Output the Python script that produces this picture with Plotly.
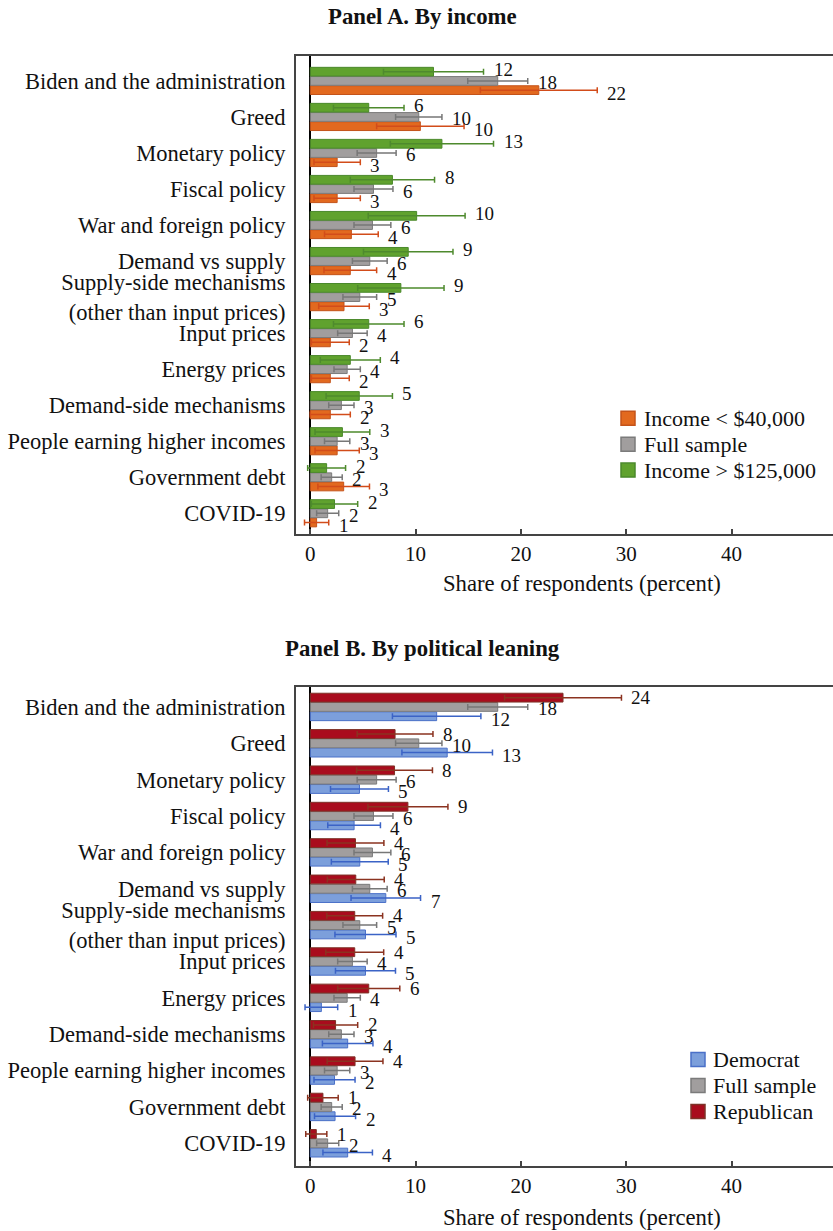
import plotly.graph_objects as go

W, H = 833, 1231

# Reasons given for inflation (top to bottom)
categories = [
    "Biden and the administration",
    "Greed",
    "Monetary policy",
    "Fiscal policy",
    "War and foreign policy",
    "Demand vs supply",
    "Supply-side mechanisms<br>(other than input prices)",
    "Input prices",
    "Energy prices",
    "Demand-side mechanisms",
    "People earning higher incomes",
    "Government debt",
    "COVID-19",
]

# Shares of respondents (percent) and error-bar half widths
full_sample = [17.8, 10.3, 6.3, 6.0, 5.9, 5.65, 4.7, 4.0, 3.5, 2.95, 2.55, 2.03, 1.65]
full_sample_err = [2.85, 2.2, 1.85, 1.85, 1.75, 1.65, 1.6, 1.4, 1.25, 1.2, 1.2, 1.0, 1.05]

income_low = [21.7, 10.45, 2.55, 2.55, 3.9, 3.8, 3.2, 1.9, 1.9, 1.9, 2.55, 3.17, 0.6]
income_low_err = [5.55, 4.15, 2.2, 2.2, 2.55, 2.5, 2.4, 1.8, 1.8, 1.9, 2.1, 2.45, 1.15]

income_high = [11.7, 5.55, 12.5, 7.8, 10.1, 9.3, 8.6, 5.55, 3.8, 4.65, 3.05, 1.55, 2.3]
income_high_err = [4.75, 3.35, 4.9, 4.0, 4.6, 4.25, 4.1, 3.35, 2.85, 3.15, 2.6, 1.8, 2.2]

democrat = [12.0, 13.0, 4.67, 4.16, 4.7, 7.17, 5.24, 5.24, 1.05, 3.55, 2.3, 2.35, 3.55]
democrat_err = [4.2, 4.3, 2.75, 2.5, 2.7, 3.3, 2.9, 2.85, 1.55, 2.4, 1.95, 1.95, 2.35]

republican = [24.0, 8.05, 8.0, 9.27, 4.29, 4.32, 4.22, 4.22, 5.55, 2.4, 4.25, 1.2, 0.57]
republican_err = [5.55, 3.6, 3.6, 3.8, 2.7, 2.7, 2.65, 2.75, 2.95, 2.1, 2.65, 1.45, 1.0]

x_ticks = [0, 10, 20, 30, 40]

FONT = "Liberation Serif, Times New Roman, Times, serif"
TEXT = "#111111"
BARGAP = 0.233


def px_x(p):
    return p / W


def px_y(p):
    return 1 - p / H


def fmt(v):
    return str(int(v + 0.5))


# Panel geometry (pixel rows of the plot frames) and legend placement
panels = {
    "A": dict(top=55.7, bottom=534.0, yrange=[-0.575, 12.70], xa="x", ya="y",
              legend_box_x=621, legend_text_x=642, legend_row0=418.3, legend_step=25.9,
              legend_order=[0, 1, 2]),
    "B": dict(top=687.3, bottom=1165.7, yrange=[-0.616, 12.54], xa="x2", ya="y2",
              legend_box_x=691, legend_text_x=711, legend_row0=1059.5, legend_step=26.0,
              legend_order=[0, 1, 2]),
}
x_left_px, x_zero_px, px_per_unit = 296.0, 310.3, 10.53
x_range = [(x_left_px - x_zero_px) / px_per_unit, (W - x_zero_px) / px_per_unit]

series = {
    "A": [
        ("Income < $40,000", income_low, income_low_err, "#E2691F", "#C4531A", "#D24C1A", -3),
        ("Full sample", full_sample, full_sample_err, "#A19E9E", "#7B7B7B", "#777777", -2),
        ("Income > $125,000", income_high, income_high_err, "#60A22E", "#4A892B", "#4E8A2D", 2),
    ],
    "B": [
        ("Democrat", democrat, democrat_err, "#7C9FDB", "#4A70C8", "#3B63C6", -3),
        ("Full sample", full_sample, full_sample_err, "#A19E9E", "#7B7B7B", "#777777", -2),
        ("Republican", republican, republican_err, "#A90C1D", "#7E3328", "#8B3320", 0),
    ],
}

fig = go.Figure()
annotations = []
shapes = []

for key, p in panels.items():
    span_px = p["bottom"] - p["top"]
    cat_px = span_px / (p["yrange"][1] - p["yrange"][0])
    bar_px = cat_px * (1 - BARGAP) / 3
    for i, (name, vals, errs, fill, edge, ecol, dy) in enumerate(series[key]):
        fig.add_trace(go.Bar(
            y=categories, x=vals, orientation="h", name=name,
            marker=dict(color=fill, line=dict(color=edge, width=1)),
            error_x=dict(type="data", array=errs, visible=True, color=ecol,
                         thickness=1.5, width=3),
            xaxis=p["xa"], yaxis=p["ya"], showlegend=False,
        ))
        offset = (i - 1) * bar_px
        for c, v, e in zip(categories, vals, errs):
            annotations.append(dict(
                x=v + e, y=c, xref=p["xa"], yref=p["ya"], text=fmt(v),
                showarrow=False, xanchor="left", yanchor="middle",
                xshift=8, yshift=offset + dy,
                font=dict(family=FONT, size=19, color=TEXT),
            ))

    # Legend: coloured squares with series names
    for row, idx in enumerate(p["legend_order"]):
        name, _, _, fill, edge, _, _ = series[key][idx]
        yc = p["legend_row0"] + row * p["legend_step"]
        x0 = p["legend_box_x"]
        shapes.append(dict(type="rect", xref="paper", yref="paper",
                           x0=px_x(x0), x1=px_x(x0 + 14), y0=px_y(yc + 7), y1=px_y(yc - 7),
                           fillcolor=fill, line=dict(color=edge, width=1.5)))
        annotations.append(dict(x=px_x(p["legend_text_x"]), y=px_y(yc), xref="paper", yref="paper",
                                text=name, showarrow=False, xanchor="left", yanchor="middle",
                                font=dict(family=FONT, size=22, color=TEXT)))

# Panel titles and axis titles
for text, ypx in [("<b>Panel A. By income</b>", 17), ("<b>Panel B. By political leaning</b>", 648)]:
    annotations.append(dict(x=px_x(422), y=px_y(ypx), xref="paper", yref="paper", text=text,
                            showarrow=False, xanchor="center", yanchor="middle",
                            font=dict(family=FONT, size=22.8, color=TEXT)))
for ypx in [583, 1217]:
    annotations.append(dict(x=px_x(582), y=px_y(ypx), xref="paper", yref="paper",
                            text="Share of respondents (percent)", showarrow=False,
                            xanchor="center", yanchor="middle",
                            font=dict(family=FONT, size=22.7, color=TEXT)))

frame = "#444444"
xaxis_style = dict(
    range=x_range, domain=[px_x(x_left_px), 1.0], tickvals=x_ticks,
    ticks="inside", ticklen=5, tickwidth=1.5, tickcolor=frame,
    showline=True, linecolor=frame, linewidth=2, mirror=True,
    showgrid=False, zeroline=True, zerolinecolor="#000000", zerolinewidth=1.5,
    tickfont=dict(family=FONT, size=21, color=TEXT), ticklabelstandoff=0,
    fixedrange=True,
)
yaxis_style = dict(
    categoryorder="array", categoryarray=list(reversed(categories)),
    ticks="", showline=True, linecolor=frame, linewidth=2, showgrid=False,
    tickfont=dict(family=FONT, size=22.5, color=TEXT), ticklabelstandoff=4,
    zeroline=False,
)

fig.update_layout(
    width=W, height=H, margin=dict(l=0, r=0, t=0, b=0),
    paper_bgcolor="white", plot_bgcolor="white",
    barmode="group", bargap=BARGAP, bargroupgap=0.05,
    xaxis=dict(xaxis_style, anchor="y"),
    yaxis=dict(yaxis_style, domain=[px_y(panels["A"]["bottom"]), px_y(panels["A"]["top"])],
               range=panels["A"]["yrange"], anchor="x"),
    xaxis2=dict(xaxis_style, anchor="y2"),
    yaxis2=dict(yaxis_style, domain=[px_y(panels["B"]["bottom"]), px_y(panels["B"]["top"])],
                range=panels["B"]["yrange"], anchor="x2"),
    annotations=annotations,
    shapes=shapes,
    showlegend=False,
)

fig.write_html("out.html")
